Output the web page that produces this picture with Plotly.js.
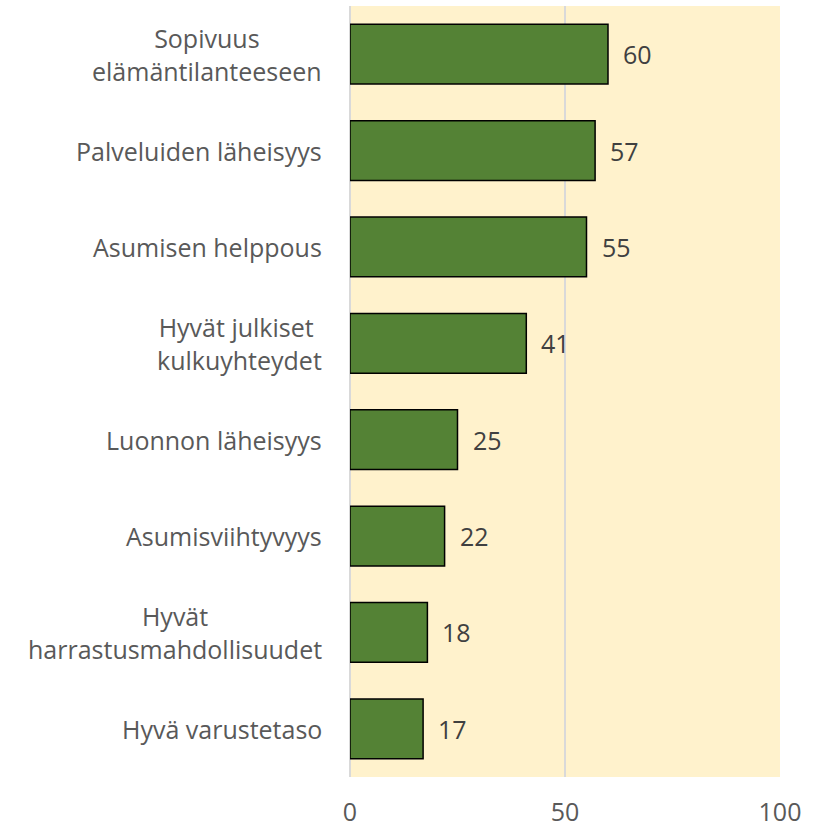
<!DOCTYPE html>
<html>
<head>
<meta charset="utf-8">
<script src="https://cdn.plot.ly/plotly-3.0.1.min.js"></script>
<style>html,body{margin:0;padding:0;background:#fff;}#chart{width:825px;height:828px;}</style>
</head>
<body>
<div id="chart"></div>
<script>
const categories = [
  "Sopivuus<br>elämäntilanteeseen",
  "Palveluiden läheisyys",
  "Asumisen helppous",
  "Hyvät julkiset <br>kulkuyhteydet",
  "Luonnon läheisyys",
  "Asumisviihtyvyys",
  "Hyvät<br>harrastusmahdollisuudet",
  "Hyvä varustetaso"
];
const values = [60, 57, 55, 41, 25, 22, 18, 17];
const xTicks = [0, 50, 100];

const FONT = "'Open Sans', Lato, sans-serif";
const FSIZE = 25;

const trace = {
  type: "bar",
  orientation: "h",
  x: values,
  y: categories,
  marker: { color: "#548235", line: { color: "#000000", width: 1.5 } },
  hoverinfo: "none"
};

const valueLabels = values.map((v, i) => ({
  x: v, y: categories[i], xref: "x", yref: "y",
  text: String(v), showarrow: false, xanchor: "left", xshift: 13,
  font: { family: FONT, size: FSIZE, color: "#404040" }
}));

const categoryLabels = categories.map((c) => ({
  x: 0, y: c, xref: "paper", yref: "y",
  text: c, showarrow: false, xanchor: "right", align: "center", xshift: -26,
  font: { family: FONT, size: FSIZE, color: "#595959" }
}));

const layout = {
  width: 825, height: 828,
  margin: { l: 350, r: 45, t: 6, b: 51, pad: 0 },
  paper_bgcolor: "#ffffff",
  plot_bgcolor: "#FFF2CC",
  showlegend: false,
  bargap: 0.38,
  font: { family: FONT, size: FSIZE, color: "#595959" },
  xaxis: {
    range: [0, 100],
    tickvals: xTicks,
    ticktext: xTicks.map(String),
    showgrid: true, gridcolor: "#D9D9D9", gridwidth: 1.5,
    zeroline: true, zerolinecolor: "#D9D9D9", zerolinewidth: 1.5,
    showline: false,
    ticks: "", ticklabelstandoff: 18,
    tickfont: { family: FONT, size: FSIZE, color: "#595959" },
    fixedrange: true
  },
  yaxis: {
    autorange: "reversed",
    type: "category",
    showgrid: false, zeroline: false, showline: false,
    showticklabels: false,
    ticks: "",
    fixedrange: true
  },
  annotations: categoryLabels.concat(valueLabels)
};

Plotly.newPlot("chart", [trace], layout, { displayModeBar: false, staticPlot: true });
</script>
</body>
</html>
